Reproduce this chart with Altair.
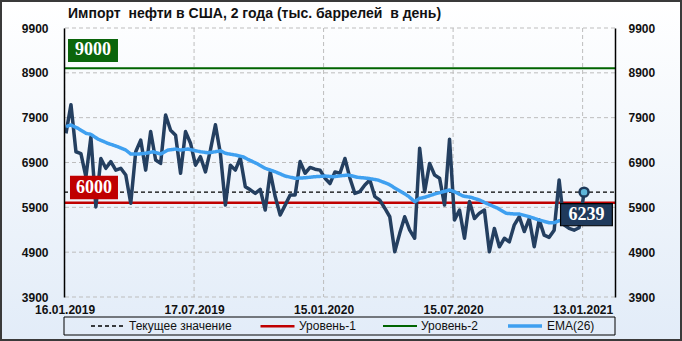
import altair as alt
import pandas as pd

F = "Liberation Sans"
TITLE = "Импорт\u00a0 нефти в США, 2 года (тыс. баррелей\u00a0 в день)"

# weekly US crude oil imports, thousand barrels per day
import_vals = [7550, 8190, 7140, 7100, 6580, 7470, 5910, 6990, 6770, 6920,
               6730, 6770, 6620, 5990, 7140, 7400, 6730, 7590, 6955, 6880,
               7960, 7620, 7510, 6660, 7590, 7330, 6840, 7030, 6690, 7180,
               7740, 7100, 5950, 6840, 6730, 7000, 6360, 6290, 6210, 6300,
               5840, 6690, 6140, 5730, 5950, 6175, 6175, 6920, 6660, 6790,
               6750, 6730, 6550, 6430, 6690, 6660, 6990, 6550, 6210, 6250,
               6400, 6510, 6140, 6060, 5880, 5690, 4910, 5320, 5690, 5390,
               5210, 7220, 6250, 6880, 6620, 6550, 5950, 7420, 5620, 5840,
               5210, 6030, 5650, 5770, 5840, 4910, 5430, 5020, 5210, 5130,
               5510, 5690, 5360, 5650, 5020, 5620, 5280, 5230, 5390, 6510,
               5510, 5430, 5390, 5445, 6239]

# EMA(26) read at these week positions
ema_week = [0, 1, 2.4, 4, 5, 6.4, 8.4, 10.4, 12, 13, 14.5, 16, 17.5, 19, 20.5,
            22, 23, 24.5, 26, 27, 28.5, 30, 31, 32, 34, 35.5, 36.5, 38.5, 40,
            42, 44, 46, 48, 50, 52, 53.6, 56.6, 58.6, 60.6, 62.6, 64.7, 66.7,
            68.7, 70, 71, 72, 74, 75.7, 77, 78, 79.7, 81.3, 83, 84.7, 86.7,
            88.4, 90, 91, 93, 95, 97, 98, 99, 101, 104]
ema_vals = [7700, 7736, 7662, 7551, 7528, 7423, 7328, 7252, 7178, 7089, 7089,
            7105, 7140, 7089, 7178, 7200, 7178, 7200, 7162, 7140, 7118, 7140,
            7162, 7105, 7067, 7029, 6971, 6866, 6770, 6694, 6598, 6547, 6560,
            6583, 6598, 6583, 6621, 6569, 6547, 6509, 6420, 6286, 6152, 6025,
            6101, 6123, 6197, 6248, 6286, 6248, 6152, 6123, 6063, 5974, 5878,
            5766, 5751, 5751, 5691, 5617, 5557, 5557, 5601, 5620, 5640]

series_names = ["Текущее значение", "Уровень-1", "Уровень-2", "EMA(26)"]
series_colors = ["#000000", "#C00000", "#006400", "#3FA0F0"]
series_dash = [[4, 3], [1, 0], [1, 0], [1, 0]]
series_width = [1.3, 2.5, 2, 3.5]
level_names = ["Текущее значение", "Уровень-1", "Уровень-2"]
level_vals = [6239, 6000, 9000]
tick_dates = ["2019-01-16", "2019-07-17", "2020-01-15", "2020-07-15", "2021-01-13"]
y_ticks = [3900, 4900, 5900, 6900, 7900, 8900, 9900]
first_date = "2019-01-18"
x_range = ["2019-01-15 05:00", "2021-02-27 12:00"]
y_range = [3900, 9900]

DAY = 86400000


def ms(s):
    return int(pd.Timestamp(s, tz="UTC").value // 10**6)


t0 = ms(first_date)
xd = [ms(s) for s in x_range]
main = pd.DataFrame({"t": [t0 + 7 * DAY * i for i in range(len(import_vals))],
                     "v": import_vals})
ema = pd.DataFrame({"t": [t0 + int(7 * DAY * w) for w in ema_week],
                    "v": ema_vals, "series": "EMA(26)"})
lev = pd.DataFrame([{"t": t, "v": v, "series": n}
                    for n, v in zip(level_names, level_vals) for t in xd])
last = main.iloc[[-1]].reset_index(drop=True)
first9000 = pd.DataFrame({"t": [t0], "v": [level_vals[2]], "lab": [str(level_vals[2])]})
first6000 = pd.DataFrame({"t": [t0], "v": [level_vals[1]], "lab": [str(level_vals[1])]})
last_lab = last.assign(lab=last["v"].astype(str))
yt = pd.DataFrame({"v": y_ticks})
xt = pd.DataFrame({"t": [ms(d) for d in tick_dates]})

W, H = 551, 269
GRID = "#BDBDBD"

xaxis = alt.Axis(values=[ms(d) for d in tick_dates],
                 labelExpr="utcFormat(datum.value, '%d.%m.%Y')",
                 grid=False, ticks=False, domain=False, labelPadding=7,
                 labelFont=F, labelFontSize=12, labelFontWeight="bold",
                 labelColor="#111111", title=None, labelFlush=False,
                 labelOverlap=False, zindex=1)
X = alt.X("t:T", scale=alt.Scale(type="utc", domain=xd), axis=xaxis)
ysc = alt.Scale(domain=y_range, nice=False, zero=False)
left_axis = alt.Axis(values=y_ticks, format="d", grid=False, ticks=False, domain=True,
                     domainColor="#000000", domainWidth=1.5, labelPadding=16,
                     labelFont=F, labelFontSize=12, labelFontWeight="bold",
                     labelColor="#111111", title=None, zindex=1, orient="left")
right_axis = alt.Axis(values=y_ticks, format="d", grid=False, ticks=False, domain=True,
                      domainColor="#000000", domainWidth=1.5, labelPadding=13,
                      labelFont=F, labelFontSize=12, labelFontWeight="bold",
                      labelColor="#111111", title=None, zindex=1, orient="right")

col = alt.Color("series:N", scale=alt.Scale(domain=series_names, range=series_colors),
                legend=alt.Legend(title=None))
dash = alt.StrokeDash("series:N", scale=alt.Scale(domain=series_names, range=series_dash),
                      legend=alt.Legend(title=None))
sw = alt.StrokeWidth("series:N", scale=alt.Scale(type="ordinal", domain=series_names,
                                                 range=series_width),
                     legend=alt.Legend(title=None))

gradient = alt.LinearGradient(gradient="linear", x1=0, y1=0, x2=0, y2=1,
                              stops=[alt.GradientStop(offset=0, color="#FFFFFF"),
                                     alt.GradientStop(offset=1, color="#E2ECF8")])

one = pd.DataFrame({"a": [0]})
bg = alt.Chart(one).mark_rect(fill=gradient, stroke="#3A3A3A", strokeWidth=2).encode(
    x=alt.value(-63), x2=alt.value(617), y=alt.value(-27), y2=alt.value(312))

title_txt = alt.Chart(pd.DataFrame({"lab": [TITLE]})).mark_text(
    font=F, fontSize=14, fontWeight="bold", color="#111111",
    align="left", baseline="middle").encode(
    x=alt.value(4), y=alt.value(-14), text="lab:N")

grid_y = alt.Chart(yt).mark_rule(strokeDash=[4, 3], color=GRID, strokeWidth=1).encode(
    y=alt.Y("v:Q", scale=ysc, axis=left_axis))
grid_x = alt.Chart(xt).mark_rule(strokeDash=[4, 3], color=GRID, strokeWidth=1).encode(
    x=X)

levels = alt.Chart(lev).mark_line(clip=True).encode(
    x=X, y=alt.Y("v:Q", scale=ysc, axis=None), color=col, strokeDash=dash,
    strokeWidth=sw, detail="series:N")

navy = alt.Chart(main).mark_line(color="#243F60", strokeWidth=3.5,
                                  strokeJoin="round").encode(
    x=X, y=alt.Y("v:Q", scale=ysc, axis=right_axis))

ema_line = alt.Chart(ema).mark_line(strokeJoin="round").encode(
    x=X, y=alt.Y("v:Q", scale=ysc, axis=None), color=col, strokeDash=dash,
    strokeWidth=sw)

LABEL_FONT = "Liberation Serif"

box9000 = alt.Chart(first9000).mark_rect(
    fill="#0B650B", xOffset=2, x2Offset=52, yOffset=-29.4, y2Offset=-6.4).encode(
    x=X, x2="t", y=alt.Y("v:Q", scale=ysc, axis=None), y2="v")
txt9000 = alt.Chart(first9000).mark_text(
    font=LABEL_FONT, fontSize=18, fontWeight="bold", color="white",
    align="center", baseline="middle", dx=27, dy=-17.9).encode(
    x=X, y=alt.Y("v:Q", scale=ysc, axis=None), text="lab:N")

box6000 = alt.Chart(first6000).mark_rect(
    fill="#C00000", xOffset=4, x2Offset=52, yOffset=-27, y2Offset=-3.5).encode(
    x=X, x2="t", y=alt.Y("v:Q", scale=ysc, axis=None), y2="v")
txt6000 = alt.Chart(first6000).mark_text(
    font=LABEL_FONT, fontSize=18, fontWeight="bold", color="white",
    align="center", baseline="middle", dx=28, dy=-15.2).encode(
    x=X, y=alt.Y("v:Q", scale=ysc, axis=None), text="lab:N")

dot = alt.Chart(last).mark_point(shape="circle", filled=True, fill="#5DB6DA",
                                 stroke="#1E3A5A", strokeWidth=2.5, size=80,
                                 opacity=1).encode(
    x=X, y=alt.Y("v:Q", scale=ysc, axis=None))
box_last = alt.Chart(last_lab).mark_rect(
    fill="#1F3A5C", stroke="#000000", strokeWidth=1.2,
    xOffset=-23.5, x2Offset=28.3, yOffset=11.4, y2Offset=33.6).encode(
    x=X, x2="t", y=alt.Y("v:Q", scale=ysc, axis=None), y2="v")
txt_last = alt.Chart(last_lab).mark_text(
    font=LABEL_FONT, fontSize=18, fontWeight="bold", color="white",
    align="center", baseline="middle", dx=2.4, dy=22.5).encode(
    x=X, y=alt.Y("v:Q", scale=ysc, axis=None), text="lab:N")

legend_box = alt.Chart(one).mark_rect(fill="#FFFFFF", fillOpacity=0, stroke="#000000",
                                      strokeWidth=1).encode(
    x=alt.value(0), x2=alt.value(W), y=alt.value(289), y2=alt.value(307))

chart = alt.layer(
    bg, title_txt, grid_y, grid_x, levels, navy, ema_line,
    box9000, txt9000, box6000, txt6000, box_last, txt_last, dot, legend_box
).resolve_axis(y="independent").properties(
    width=W, height=H,
    autosize=alt.AutoSizeParams(type="none"),
    padding={"left": 64, "top": 28, "right": 682 - 64 - W, "bottom": 341 - 28 - H},
).configure_view(stroke=None).configure_legend(
    orient="none", legendX=26, legendY=279, direction="horizontal",
    symbolType="stroke", symbolSize=1156, labelFont=F, labelFontSize=12,
    labelColor="#111111", columnPadding=23, labelOffset=3, padding=0, zindex=2,
)

chart.save("out.html", embed_options={"renderer": "svg", "actions": False})
